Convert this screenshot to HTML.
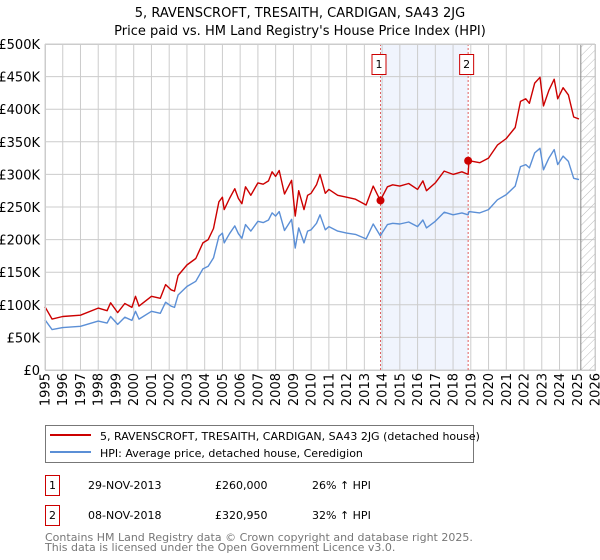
<!DOCTYPE html>
<html><head><meta charset="utf-8"><style>
body{margin:0;background:#fff;font-family:"DejaVu Sans","Liberation Sans",sans-serif;}
svg{display:block}
</style></head><body>
<svg id="c" width="600" height="560" xmlns="http://www.w3.org/2000/svg">
<defs><pattern id="hatch" width="6" height="6" patternUnits="userSpaceOnUse" patternTransform="rotate(45)"><line x1="0" y1="0" x2="0" y2="6" stroke="#bbb" stroke-width="1"/></pattern></defs>
<text x="300" y="17" text-anchor="middle" font-size="13">5, RAVENSCROFT, TRESAITH, CARDIGAN, SA43 2JG</text>
<text x="300" y="35" text-anchor="middle" font-size="13">Price paid vs. HM Land Registry's House Price Index (HPI)</text>
<g id="grid"></g><g id="marks"></g><g id="axes"></g>
<g>
<rect x="45.5" y="425.5" width="428" height="37" fill="#fff" stroke="#777"/>
<line x1="50" y1="435" x2="91" y2="435" stroke="#cc0000" stroke-width="2"/>
<text x="100" y="440" font-size="11">5, RAVENSCROFT, TRESAITH, CARDIGAN, SA43 2JG (detached house)</text>
<line x1="50" y1="452" x2="91" y2="452" stroke="#5b8fd6" stroke-width="2"/>
<text x="100" y="457" font-size="11">HPI: Average price, detached house, Ceredigion</text>
</g>
<g font-size="11">
<rect x="45.5" y="475.5" width="14" height="20" fill="#fff" stroke="#cc0000"/>
<text x="52.5" y="489" text-anchor="middle">1</text>
<text x="88" y="489">29-NOV-2013</text>
<text x="215" y="489">£260,000</text>
<text x="312" y="489">26% ↑ HPI</text>
<rect x="45.5" y="505.5" width="14" height="20" fill="#fff" stroke="#cc0000"/>
<text x="52.5" y="519" text-anchor="middle">2</text>
<text x="88" y="519">08-NOV-2018</text>
<text x="215" y="519">£320,950</text>
<text x="312" y="519">32% ↑ HPI</text>
</g>
<text x="45" y="541" font-size="11" fill="#777">Contains HM Land Registry data © Crown copyright and database right 2025.</text>
<text x="45" y="551" font-size="11" fill="#777">This data is licensed under the Open Government Licence v3.0.</text>
</svg>
<script>
const years=[1995.0,1995.4,1996,1997,1998,1998.5,1998.7,1999.1,1999.5,1999.9,2000.1,2000.3,2001,2001.5,2001.8,2002.1,2002.3,2002.5,2003,2003.5,2003.9,2004.2,2004.5,2004.8,2005.0,2005.1,2005.4,2005.7,2005.9,2006.1,2006.3,2006.6,2007,2007.3,2007.6,2007.8,2008.0,2008.2,2008.5,2008.9,2009.1,2009.3,2009.6,2009.8,2010.0,2010.3,2010.5,2010.8,2011,2011.5,2012,2012.5,2013.1,2013.5,2013.9,2014.3,2014.6,2015,2015.5,2016,2016.3,2016.5,2017,2017.5,2018,2018.5,2018.85,2018.9,2019.5,2020,2020.5,2021,2021.5,2021.8,2022.1,2022.3,2022.6,2022.9,2023.1,2023.4,2023.7,2023.9,2024.2,2024.5,2024.8,2025.1];
const hpi=[77,62,65,67,75,72,82,70,81,76,90,78,90,87,104,98,96,115,128,136,155,159,172,205,210,195,209,221,209,202,223,213,228,226,230,241,236,243,214,231,187,218,195,213,215,225,238,215,220,213,210,208,201,224,206,223,225,224,227,220,230,218,228,242,238,241,238,243,241,246,261,269,282,312,315,310,333,340,307,325,338,315,328,320,294,292];
const red=[97,78,82,84,95,91,103,88,102,96,113,98,113,110,131,123,121,145,161,171,195,200,217,258,265,246,263,278,263,255,281,268,287,285,290,304,297,306,270,291,236,275,246,268,271,284,300,271,277,268,265,262,253,282,260,281,284,282,286,277,290,275,287,305,300,304,300,321,318,325,345,355,372,412,416,409,440,449,405,429,446,416,433,422,388,385];
const saleYears=[2013.91,2018.85];
const salePrices=[260,320.95];
const saleLabels=["1","2"];
const yTicks=[0,50,100,150,200,250,300,350,400,450,500];
const yTickLabels=["£0","£50K","£100K","£150K","£200K","£250K","£300K","£350K","£400K","£450K","£500K"];
const xTicks=[1995,1996,1997,1998,1999,2000,2001,2002,2003,2004,2005,2006,2007,2008,2009,2010,2011,2012,2013,2014,2015,2016,2017,2018,2019,2020,2021,2022,2023,2024,2025,2026];
const dataEnd=2025.2;

const NS="http://www.w3.org/2000/svg";
const L=45,R=595,T=44,B=370;
const X=y=>L+(y-1995)/(2026-1995)*(R-L);
const Y=v=>B-v/500*(B-T);
function mk(parent,tag,attrs){const e=document.createElementNS(NS,tag);for(const k in attrs)e.setAttribute(k,attrs[k]);document.getElementById(parent).appendChild(e);return e;}

let e=mk('grid','rect',{x:X(saleYears[0]),y:T,width:X(saleYears[1])-X(saleYears[0]),height:B-T,fill:'#f0f4fd'});


xTicks.forEach(t=>{const g=mk('grid','line',{x1:X(t),x2:X(t),y1:T,y2:B,stroke:'#cccccc','stroke-width':1});

});
yTicks.forEach(t=>{const g=mk('grid','line',{x1:L,x2:R,y1:Y(t),y2:Y(t),stroke:'#cccccc','stroke-width':1});

});
e=mk('grid','rect',{x:X(dataEnd),y:T,width:R-X(dataEnd),height:B-T,fill:'url(#hatch)'});


e=mk('grid','line',{x1:X(dataEnd),x2:X(dataEnd),y1:T,y2:B,stroke:'#888','stroke-width':1});



saleYears.forEach((s,i)=>{
 const v=mk('marks','line',{x1:X(s),x2:X(s),y1:T,y2:B,stroke:'#e06060','stroke-width':1,'stroke-dasharray':'2,2'});
 
 
});
function path(vals,col,name){const d=years.map((y,i)=>(i?'L':'M')+X(y).toFixed(1)+','+Y(vals[i]).toFixed(1)).join('');
 const p=mk('marks','path',{d:d,fill:'none',stroke:col,'stroke-width':1.4,'stroke-linejoin':'round'});
 
 }
path(hpi,'#5b8fd6','hpi-line');
path(red,'#cc0000','property-price-line');
saleYears.forEach((s,i)=>{
 const c=mk('marks','circle',{cx:X(s),cy:Y(salePrices[i]),r:4,fill:'#cc0000'});
 
 
 const b=mk('marks','rect',{x:X(s)-8.5,y:54.5,width:14,height:20,fill:'#fff',stroke:'#cc0000'});
 
 
 const t=mk('marks','text',{x:X(s)-1.5,y:68,'text-anchor':'middle','font-size':11});
 t.textContent=saleLabels[i];
 
 
});
e=mk('axes','rect',{x:L+0.5,y:T+0.5,width:R-L,height:B-T,fill:'none',stroke:'#cccccc'});


yTicks.forEach((t,i)=>{const tx=mk('axes','text',{x:40,y:Y(t)+5,'text-anchor':'end','font-size':13});
 tx.textContent=yTickLabels[i];
 
 });
xTicks.forEach(t=>{const tx=mk('axes','text',{x:0,y:0,'text-anchor':'end','font-size':13,transform:'translate('+(X(t)+4.5)+','+(B+3)+') rotate(-90)'});
 tx.textContent=t;
 
 });
</script>
</body></html>
